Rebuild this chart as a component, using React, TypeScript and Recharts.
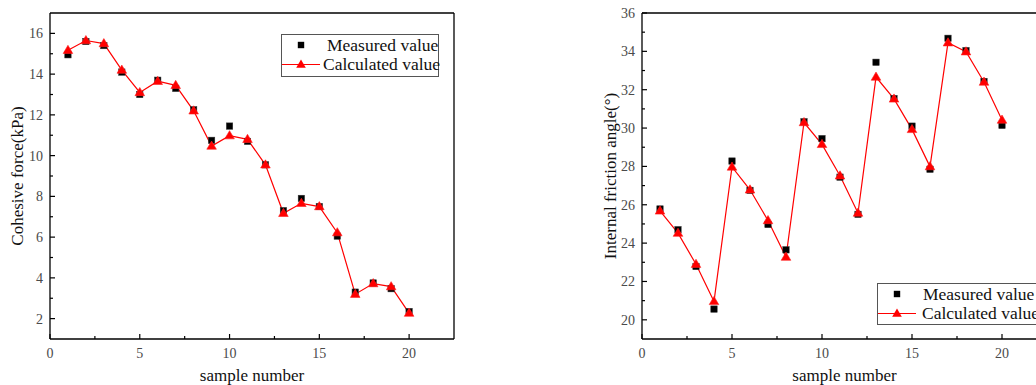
import React from 'react';
import { ComposedChart, Line, XAxis, YAxis, ReferenceLine, Legend } from 'recharts';

const samples = [1, 2, 3, 4, 5, 6, 7, 8, 9, 10, 11, 12, 13, 14, 15, 16, 17, 18, 19, 20];
const cohesiveMeasured = [14.95, 15.6, 15.4, 14.1, 13.0, 13.7, 13.3, 12.25, 10.75, 11.45, 10.7, 9.55, 7.3, 7.9, 7.5, 6.05, 3.3, 3.75, 3.47, 2.35];
const cohesiveCalculated = [15.17, 15.65, 15.5, 14.2, 13.1, 13.65, 13.45, 12.2, 10.47, 10.98, 10.8, 9.55, 7.17, 7.66, 7.5, 6.22, 3.2, 3.72, 3.57, 2.27];
const frictionMeasured = [25.78, 24.7, 22.78, 20.56, 28.28, 26.75, 24.97, 23.65, 30.33, 29.45, 27.44, 25.5, 33.43, 31.54, 30.1, 27.85, 34.68, 34.04, 32.43, 30.14];
const frictionCalculated = [25.68, 24.52, 22.9, 20.96, 27.97, 26.78, 25.18, 23.27, 30.29, 29.15, 27.51, 25.57, 32.66, 31.52, 29.93, 27.99, 34.45, 33.98, 32.4, 30.42];

const xTicks = [0, 2.5, 5, 7.5, 10, 12.5, 15, 17.5, 20];
const xMajor = [0, 5, 10, 15, 20];
const cohesiveTicks = [2, 3, 4, 5, 6, 7, 8, 9, 10, 11, 12, 13, 14, 15, 16];
const frictionTicks = [20, 21, 22, 23, 24, 25, 26, 27, 28, 29, 30, 31, 32, 33, 34, 35, 36];

const cohesiveData = samples.map((s, i) => ({ x: s, measured: cohesiveMeasured[i], calculated: cohesiveCalculated[i] }));
const frictionData = samples.map((s, i) => ({ x: s, measured: frictionMeasured[i], calculated: frictionCalculated[i] }));

const FONT = '"Liberation Serif", "Times New Roman", serif';
const TICK_COLOR = '#4a4a4a';

const XTick = (props: any) => {
  const { x, y, payload } = props;
  const major = xMajor.includes(payload.value);
  return (
    <g>
      <line x1={x} x2={x} y1={y} y2={y - (major ? 5 : 3)} stroke="#000" strokeWidth={1.2} />
      {major && (
        <text x={x} y={y + 19} textAnchor="middle" fontFamily={FONT} fontSize={14} fill={TICK_COLOR}>
          {payload.value}
        </text>
      )}
    </g>
  );
};

const YTick = (props: any) => {
  const { x, y, payload } = props;
  const major = payload.value % 2 === 0;
  return (
    <g>
      <line x1={x} x2={x + (major ? 5 : 3)} y1={y} y2={y} stroke="#000" strokeWidth={1.2} />
      {major && (
        <text x={x - 7} y={y + 5} textAnchor="end" fontFamily={FONT} fontSize={14} fill={TICK_COLOR}>
          {payload.value}
        </text>
      )}
    </g>
  );
};

const SquareDot = (props: any) => {
  const { cx, cy, index } = props;
  if (cx == null || cy == null) return null;
  return <rect key={`sq-${index}`} x={cx - 3.2} y={cy - 3.2} width={6.4} height={6.4} fill="#000" stroke="#333" strokeWidth={0.5} />;
};

const TriDot = (props: any) => {
  const { cx, cy, index } = props;
  if (cx == null || cy == null) return null;
  return (
    <path
      key={`tr-${index}`}
      d={`M${cx},${cy - 5} L${cx + 4.8},${cy + 3.2} L${cx - 4.8},${cy + 3.2} Z`}
      fill="#ff0000"
      stroke="#ff2020"
      strokeWidth={0.6}
    />
  );
};

const LegendBox = ({ w, h, mx, cx }: { w: number; h: number; mx: number; cx: number }) => (
  <svg width={w} height={h} style={{ display: 'block', overflow: 'visible' }}>
    <rect x={0.5} y={0.5} width={w - 1} height={h - 1} fill="#fff" stroke="#555" strokeWidth={1} />
    <rect x={20 - 3.2} y={11 - 3.2} width={6.4} height={6.4} fill="#000" />
    <text x={mx} y={17} fontFamily={FONT} fontSize={17.5} fill="#111">Measured value</text>
    <line x1={1} x2={39} y1={30.5} y2={30.5} stroke="#ff0000" strokeWidth={1.2} />
    <path d={`M20,${30.5 - 5} L24.8,${30.5 + 3.2} L15.2,${30.5 + 3.2} Z`} fill="#ff0000" />
    <text x={cx} y={36} fontFamily={FONT} fontSize={17.5} fill="#111">Calculated value</text>
  </svg>
);

const yLabel = (text: string, dx: number) => (props: any) => {
  const { viewBox } = props;
  const cx = viewBox.x + dx;
  const cy = viewBox.y + viewBox.height / 2;
  return (
    <text x={cx} y={cy} transform={`rotate(-90, ${cx}, ${cy})`} textAnchor="middle" dominantBaseline="central" fontFamily={FONT} fontSize={17} fill="#111">
      {text}
    </text>
  );
};

const xLabel = (props: any) => {
  const { viewBox } = props;
  return (
    <text x={viewBox.x + viewBox.width / 2} y={viewBox.y + 42} textAnchor="middle" fontFamily={FONT} fontSize={17} fill="#111">
      sample number
    </text>
  );
};

export default function App() {
  return (
    <div style={{ position: 'fixed', left: 0, top: 0, width: 1036, height: 385, overflow: 'hidden', background: '#fff' }}>
      <div style={{ position: 'absolute', left: 0, top: 0 }}>
        <ComposedChart width={470} height={385} data={cohesiveData} margin={{ top: 13, right: 16, bottom: 0, left: 0 }}>
          <XAxis
            dataKey="x"
            type="number"
            domain={[0, 22.5]}
            ticks={xTicks}
            interval={0}
            tickSize={0}
            tickMargin={0}
            tick={<XTick />}
            height={46}
            stroke="#000"
            strokeWidth={1.3}
            label={xLabel}
          />
          <YAxis
            type="number"
            domain={[1, 17]}
            ticks={cohesiveTicks}
            interval={0}
            tickSize={0}
            tickMargin={0}
            tick={<YTick />}
            width={50}
            stroke="#000"
            strokeWidth={1.3}
            label={yLabel('Cohesive force(kPa)', 17)}
          />
          <ReferenceLine y={17} stroke="#000" strokeWidth={1.3} />
          <ReferenceLine x={22.5} stroke="#000" strokeWidth={1.3} />
          <Line dataKey="measured" stroke="none" dot={<SquareDot />} activeDot={false} isAnimationActive={false} legendType="square" />
          <Line dataKey="calculated" stroke="#ff0000" strokeWidth={1.2} dot={<TriDot />} activeDot={false} isAnimationActive={false} legendType="triangle" />
          <Legend
            layout="horizontal"
            verticalAlign="middle"
            align="center"
            wrapperStyle={{ position: 'absolute', left: 281, top: 34, width: 158, height: 43 }}
            content={() => <LegendBox w={158} h={43} mx={46} cx={42} />}
          />
        </ComposedChart>
      </div>
      <div style={{ position: 'absolute', left: 580, top: 0 }}>
        <ComposedChart width={490} height={385} data={frictionData} margin={{ top: 13, right: 23, bottom: 0, left: 0 }}>
          <XAxis
            dataKey="x"
            type="number"
            domain={[0, 22.5]}
            ticks={xTicks}
            interval={0}
            tickSize={0}
            tickMargin={0}
            tick={<XTick />}
            height={46}
            stroke="#000"
            strokeWidth={1.3}
            label={xLabel}
          />
          <YAxis
            type="number"
            domain={[19, 36]}
            ticks={frictionTicks}
            interval={0}
            tickSize={0}
            tickMargin={0}
            tick={<YTick />}
            width={62}
            stroke="#000"
            strokeWidth={1.3}
            label={yLabel('Internal friction angle(°)', 30)}
          />
          <ReferenceLine y={36} stroke="#000" strokeWidth={1.3} />
          <Line dataKey="measured" stroke="none" dot={<SquareDot />} activeDot={false} isAnimationActive={false} legendType="square" />
          <Line dataKey="calculated" stroke="#ff0000" strokeWidth={1.2} dot={<TriDot />} activeDot={false} isAnimationActive={false} legendType="triangle" />
          <Legend
            layout="horizontal"
            verticalAlign="middle"
            align="center"
            wrapperStyle={{ position: 'absolute', left: 297, top: 283, width: 180, height: 42 }}
            content={() => <LegendBox w={180} h={42} mx={46} cx={45} />}
          />
        </ComposedChart>
      </div>
    </div>
  );
}
